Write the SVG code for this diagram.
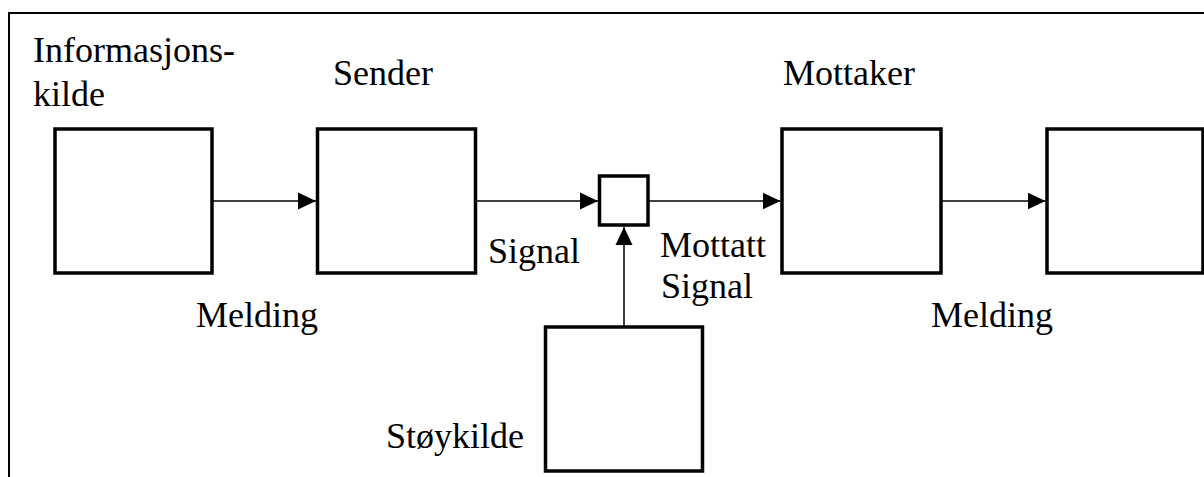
<svg xmlns="http://www.w3.org/2000/svg" width="1204" height="477" viewBox="0 0 1204 477">
<style>
.box{fill:#fff;stroke:#000;stroke-width:3.5}
.frame{fill:none;stroke:#000;stroke-width:2}
.conn{stroke:#000;stroke-width:1.5;fill:none}
text{font-family:'Liberation Serif','Times New Roman',Times,serif;font-size:36px;fill:#000}
</style>
<defs>
<marker id="arr" markerUnits="userSpaceOnUse" markerWidth="18" markerHeight="18" viewBox="0 0 18 18" refX="18" refY="9" orient="auto">
<path d="M0,0.5 L18,9 L0,17.5 Z" fill="#000"/>
</marker>
</defs>
<rect width="1204" height="477" fill="#fff"/>
<rect class="frame" x="9" y="13" width="1210" height="480"/>
<g id="informasjonskilde">
<rect class="box" x="55" y="129" width="157" height="144"/>
<text x="33" y="61.5" font-family="Liberation Serif, serif">Informasjons-</text>
<text x="33" y="106" font-family="Liberation Serif, serif">kilde</text>
</g>
<g id="sender">
<rect class="box" x="317.5" y="129" width="158" height="144"/>
<text x="333" y="85" font-family="Liberation Serif, serif">Sender</text>
</g>
<g id="kanal">
<rect class="box" x="599.5" y="176" width="48.5" height="49"/>
</g>
<g id="mottaker">
<rect class="box" x="782" y="129" width="159" height="144"/>
<text x="783" y="85" font-family="Liberation Serif, serif">Mottaker</text>
</g>
<g id="destinasjon">
<rect class="box" x="1047" y="129" width="156" height="144"/>
</g>
<g id="stoykilde">
<rect class="box" x="545.5" y="327" width="157" height="144"/>
<text x="386" y="448" font-family="Liberation Serif, serif">Støykilde</text>
</g>
<g id="connectors">
<line class="conn" x1="212" y1="201" x2="316" y2="201" marker-end="url(#arr)"/>
<line class="conn" x1="475.5" y1="201" x2="598" y2="201" marker-end="url(#arr)"/>
<line class="conn" x1="648" y1="201" x2="780.5" y2="201" marker-end="url(#arr)"/>
<line class="conn" x1="941" y1="201" x2="1045.5" y2="201" marker-end="url(#arr)"/>
<line class="conn" x1="624" y1="327" x2="624" y2="227" marker-end="url(#arr)"/>
<text x="196" y="327" font-family="Liberation Serif, serif">Melding</text>
<text x="488" y="263" font-family="Liberation Serif, serif">Signal</text>
<text x="660" y="257" font-family="Liberation Serif, serif">Mottatt</text>
<text x="661" y="298" font-family="Liberation Serif, serif">Signal</text>
<text x="931" y="327" font-family="Liberation Serif, serif">Melding</text>
</g>
</svg>
